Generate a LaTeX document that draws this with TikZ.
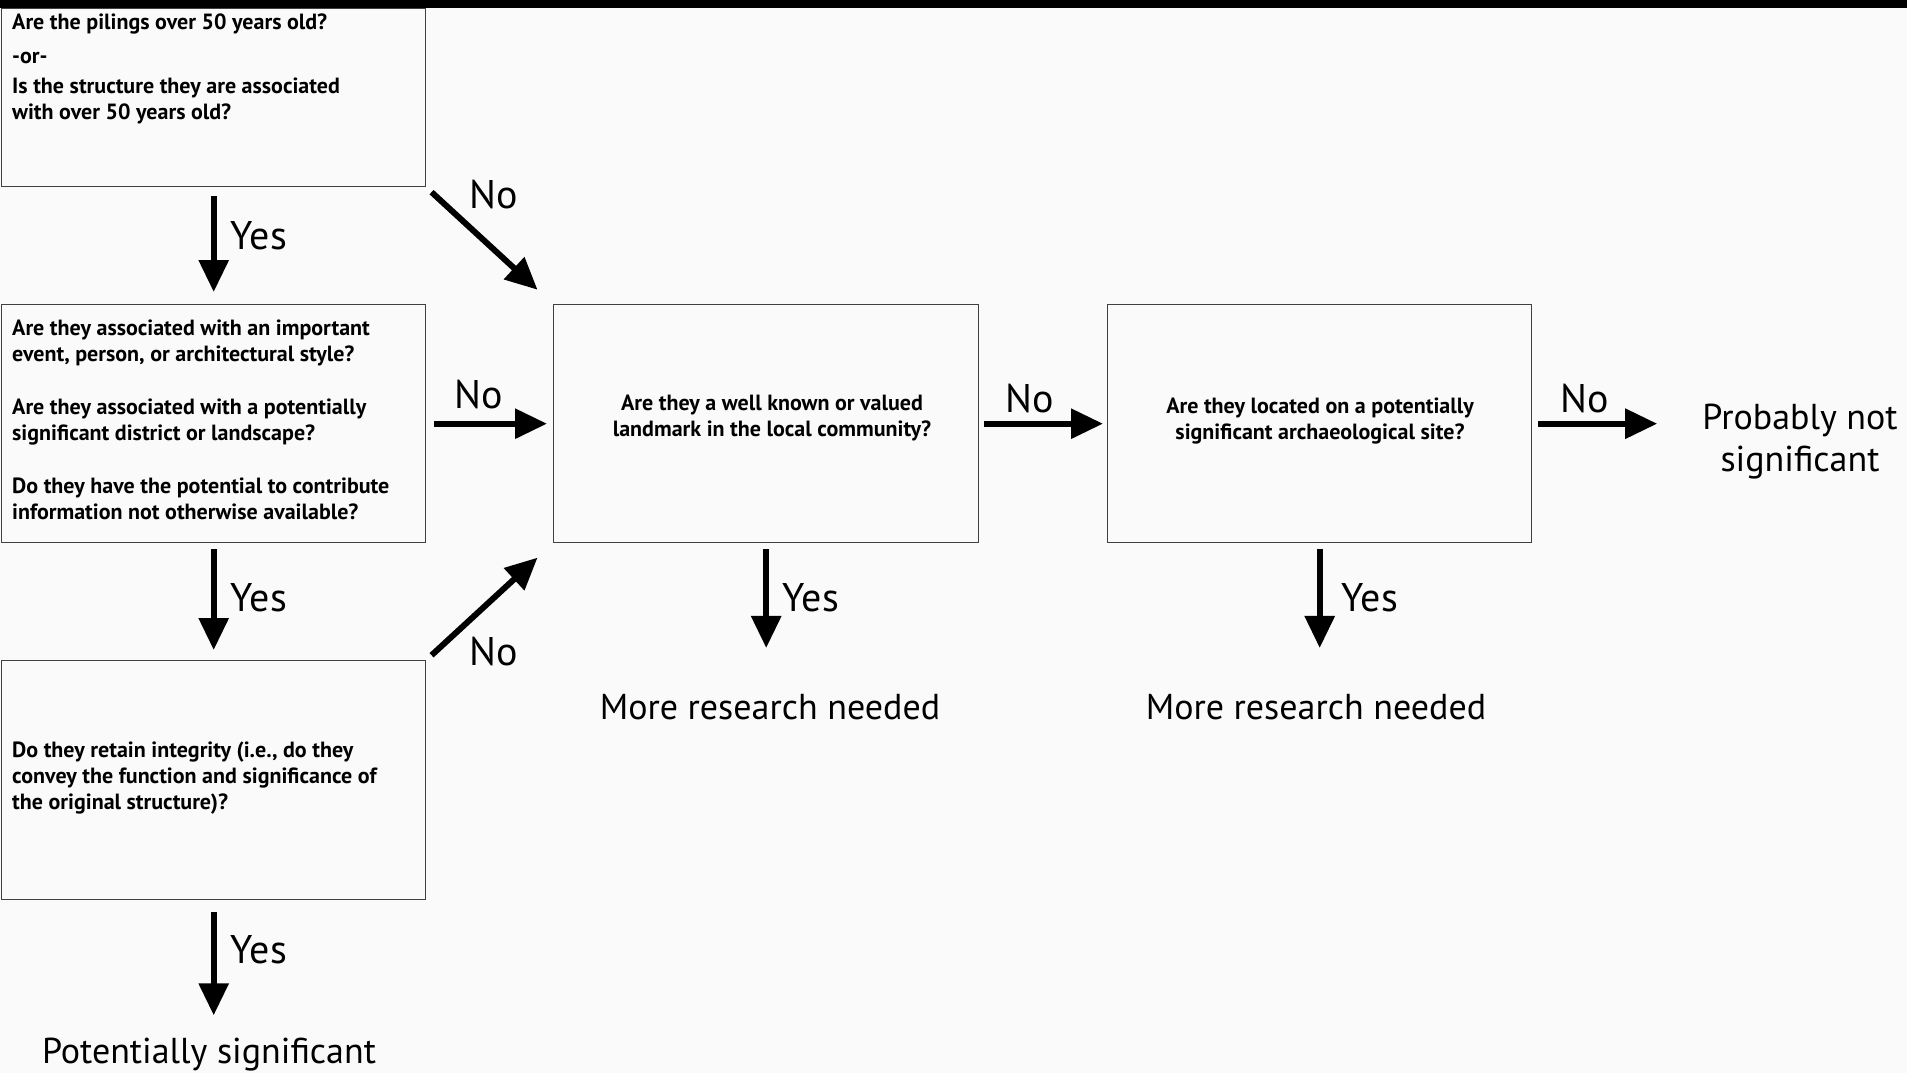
\documentclass[tikz,border=0pt]{standalone}
\usepackage{fontspec}
\setmainfont{PT Sans}
\usetikzlibrary{arrows.meta}
\begin{document}
\begin{tikzpicture}[x=1pt,y=-1pt,
  qbox/.style={draw=black!75, line width=1.4pt, inner sep=0pt, anchor=north west},
  qtext/.style={font=\bfseries\fontsize{22}{26}\selectfont, inner sep=0pt, align=left, anchor=north west},
  ctext/.style={font=\bfseries\fontsize{22}{26}\selectfont, inner sep=0pt, align=center, anchor=north},
  lbl/.style={font=\fontsize{40}{46}\selectfont, inner sep=0pt},
  outc/.style={font=\fontsize{36}{42}\selectfont, inner sep=0pt, align=center},
  arr/.style={line width=6pt, -{Triangle[length=32pt,width=29pt]}}]
\useasboundingbox[fill={rgb,255:red,250;green,250;blue,250}] (0,0) rectangle (1907,1073);
\fill[black] (0,0) rectangle (1907,8);
% boxes
\node[qbox, minimum width=424pt, minimum height=178pt] (b1) at (1,8) {};
\node[qbox, minimum width=424pt, minimum height=238pt] (b2) at (1,304) {};
\node[qbox, minimum width=424pt, minimum height=239pt] (b4) at (1,660) {};
\node[qbox, minimum width=425pt, minimum height=238pt] (b3) at (553,304) {};
\node[qbox, minimum width=424pt, minimum height=238pt] (b5) at (1107,304) {};
% box texts
\node[qtext] (t1) at (12,13.5) {Are the pilings over 50 years old?\\[8pt]-or-\\[4pt]Is the structure they are associated\\with over 50 years old?};
\node[qtext] (t2) at (12,319.5) {Are they associated with an important\\event, person, or architectural style?\\[27pt]Are they associated with a potentially\\significant district or landscape?\\[27pt]Do they have the potential to contribute\\information not otherwise available?};
\node[qtext] (t4) at (12,741.5) {Do they retain integrity (i.e., do they\\convey the function and significance of\\the original structure)?};
\node[ctext] (t3) at (772,395) {Are they a well known or valued\\landmark in the local community?};
\node[ctext] (t5) at (1320,397.5) {Are they located on a potentially\\significant archaeological site?};
% outcomes
\node[outc, anchor=base] (ps) at (209,1063) {Potentially significant};
\node[outc] (mr1) at (770,707) {More research needed};
\node[outc] (mr2) at (1316,707) {More research needed};
\node[outc, anchor=north] (pns) at (1800,404) {Probably not\\significant};
% arrows
\draw[arr, shorten <=9pt, shorten >=12pt] (b1.south) -- (b2.north);
\draw[arr, shorten <=6pt, shorten >=10pt] (b2.south) -- (b4.north);
\draw[arr, shorten <=12pt, shorten >=22pt] (b4.south) -- (b4.south |- ps.north);
\draw[arr, shorten <=7pt, shorten >=21pt] (b1.south east) -- (b3.north west);
\draw[arr, shorten <=7pt, shorten >=21pt] (b4.north east) -- (b3.south west);
\draw[arr, shorten <=8pt, shorten >=6pt] (b2.east) -- (b3.west);
\draw[arr, shorten <=5pt, shorten >=4pt] (b3.east) -- (b5.west);
\draw[arr, shorten <=6pt, shorten >=45pt] (b5.east) -- (b5.east -| pns.west);
\draw[arr, shorten <=6pt, shorten >=46pt] (b3.south) -- (b3.south |- mr1.north);
\draw[arr, shorten <=6pt, shorten >=46pt] (b5.south) -- (b5.south |- mr2.north);
% labels
\node[lbl] (y1) at (259,236) {Yes};
\node[lbl] (y2) at (259,598) {Yes};
\node[lbl] (y3) at (259,950) {Yes};
\node[lbl] (y4) at (811,598) {Yes};
\node[lbl] (y5) at (1370,598) {Yes};
\node[lbl] (n1) at (494,195) {No};
\node[lbl] (n2) at (479,395) {No};
\node[lbl] (n3) at (494,652) {No};
\node[lbl] (n4) at (1030,399) {No};
\node[lbl] (n5) at (1585,399) {No};
\end{tikzpicture}
\end{document}
